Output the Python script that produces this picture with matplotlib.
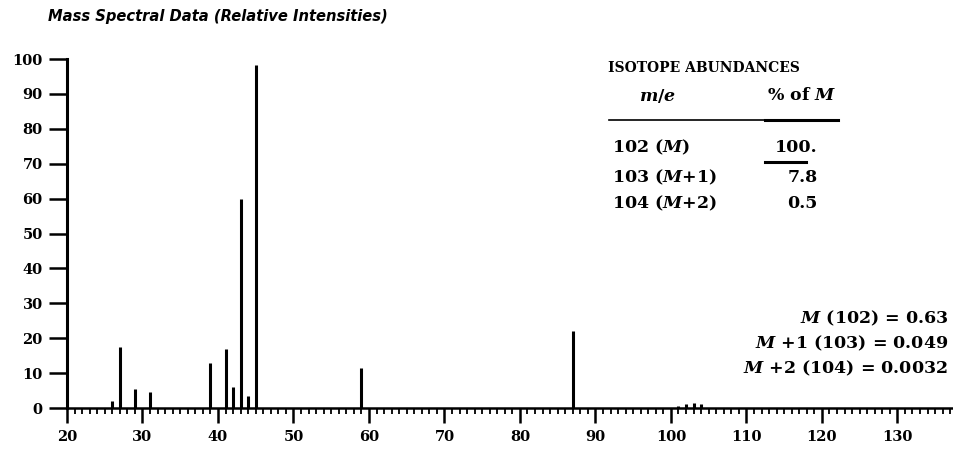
import matplotlib
matplotlib.use("Agg")
import matplotlib.pyplot as plt
from matplotlib.ticker import MultipleLocator

# ---- data ----
mz = [26, 27, 29, 31, 39, 41, 42, 43, 44, 45, 59, 87, 101, 102, 103, 104]
intensity = [2, 17.5, 5.5, 4.5, 13, 17, 6, 60, 3.5, 98.4, 11.5, 22, 0.6, 1.2, 1.5, 1.2]
x_ticks = [20, 30, 40, 50, 60, 70, 80, 90, 100, 110, 120, 130]
y_ticks = [0, 10, 20, 30, 40, 50, 60, 70, 80, 90, 100]

iso_rows = ["102 ($M$)", "103 ($M$+1)", "104 ($M$+2)"]
iso_vals = ["100.", "7.8", "0.5"]
mol_lines = ["$M$ (102) = 0.63", "$M$ +1 (103) = 0.049", "$M$ +2 (104) = 0.0032"]

plt.rcParams["mathtext.fontset"] = "custom"
plt.rcParams["mathtext.it"] = "DejaVu Serif:italic:bold"
plt.rcParams["mathtext.rm"] = "DejaVu Serif:bold"

W, H = 954, 450
fig = plt.figure(figsize=(W / 100, H / 100), dpi=100)
fig.patch.set_facecolor("white")

def fx(px):
    return px / W

def fy(py):
    return 1 - py / H

ax = fig.add_axes([fx(67), fy(408), fx(954) - fx(67), fy(59) - fy(408)])
ax.vlines(mz, 0, intensity, colors="black", linewidth=2.2)
ax.set_xlim(20, 137.5)
ax.set_ylim(0, 100)
ax.spines["top"].set_visible(False)
ax.spines["right"].set_visible(False)
ax.spines["left"].set_linewidth(2.2)
ax.spines["bottom"].set_linewidth(1.8)
ax.spines["left"].set_zorder(5)

ax.set_xticks(x_ticks)
ax.set_yticks(y_ticks)
ax.xaxis.set_minor_locator(MultipleLocator(1))
ax.tick_params(axis="y", which="major", direction="out", length=13, width=1.8, pad=4.5)
ax.tick_params(axis="x", which="major", direction="out", length=11, width=1.8, pad=5)
ax.tick_params(axis="x", which="minor", direction="out", length=4.5, width=1.3)
for lab in ax.get_xticklabels() + ax.get_yticklabels():
    lab.set_fontfamily("DejaVu Serif")
    lab.set_fontweight("bold")
    lab.set_fontsize(10.5)

# title
fig.text(fx(48), fy(17), "Mass Spectral Data (Relative Intensities)",
         fontfamily="DejaVu Sans", fontweight="bold", fontstyle="italic",
         fontsize=10.6, ha="left", va="center")

# isotope table
serif = dict(fontfamily="DejaVu Serif", fontweight="bold", color="black")
fig.text(fx(608), fy(68), "ISOTOPE ABUNDANCES", fontsize=10, ha="left", va="center", **serif)
fig.text(fx(658), fy(96), "$m/e$", fontsize=12.5, ha="center", va="center", **serif)
fig.text(fx(767), fy(96), "% of $M$", fontsize=12.5, ha="left", va="center", **serif)
fig.add_artist(plt.Line2D([fx(609), fx(765)], [fy(120), fy(120)], color="black", lw=1.2))
fig.add_artist(plt.Line2D([fx(765), fx(838)], [fy(120), fy(120)], color="black", lw=2.2))
row_y = [147, 177, 203]
for i, (r, v) in enumerate(zip(iso_rows, iso_vals)):
    fig.text(fx(612), fy(row_y[i]), r, fontsize=12.5, ha="left", va="center", **serif)
    fig.text(fx(818), fy(row_y[i]), v, fontsize=12.5, ha="right", va="center", **serif)
fig.add_artist(plt.Line2D([fx(765), fx(806)], [fy(162), fy(162)], color="black", lw=2.2))

# molecular ion lines
mol_y = [318, 343, 368]
for t, yy in zip(mol_lines, mol_y):
    fig.text(fx(948), fy(yy), t, fontsize=12.5, ha="right", va="center", **serif)

fig.savefig("out.png", dpi=100, facecolor="white")
